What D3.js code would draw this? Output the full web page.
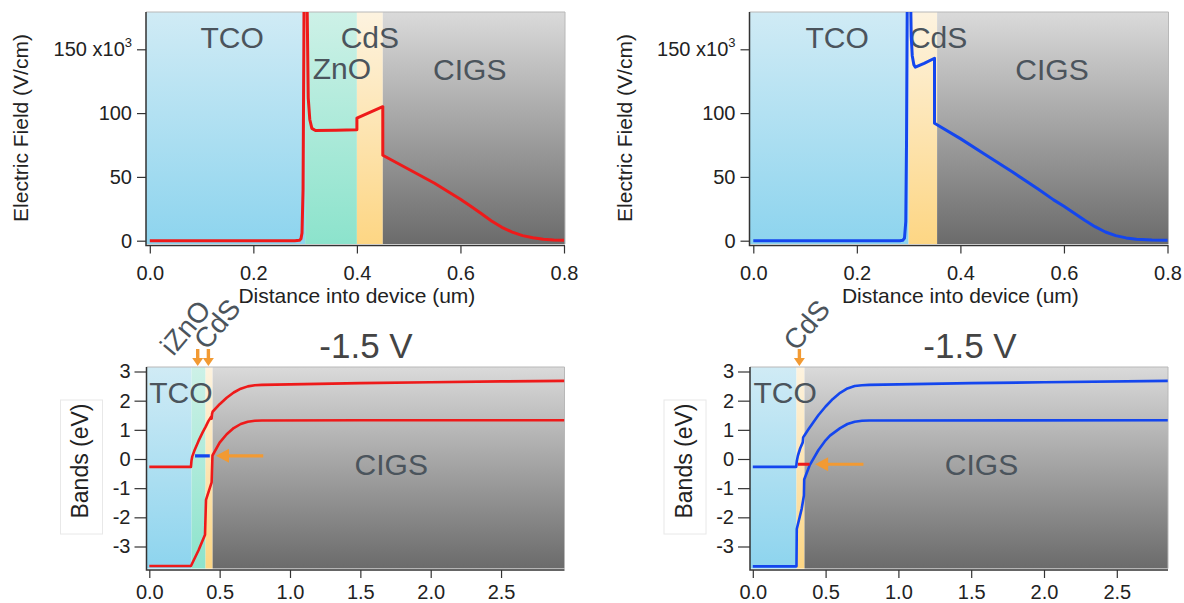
<!DOCTYPE html>
<html>
<head>
<meta charset="utf-8">
<script src="https://cdn.jsdelivr.net/npm/d3@7"></script>
<style>
  body { margin: 0; background: #fff; }
  svg text { font-family: "Liberation Sans", Arial, Helvetica, sans-serif; }
</style>
</head>
<body>
<svg id="chart" width="1184" height="603"></svg>
<script>
// layer stacks (um)
const layersZnO = [
  { name: "TCO", x0: 0, x1: 0.3 },
  { name: "ZnO", x0: 0.3, x1: 0.4 },
  { name: "CdS", x0: 0.4, x1: 0.45 },
  { name: "CIGS", x0: 0.45, x1: 2.95 },
];
const layersCdS = [
  { name: "TCO", x0: 0, x1: 0.3 },
  { name: "CdS", x0: 0.3, x1: 0.355 },
  { name: "CIGS", x0: 0.355, x1: 2.95 },
];

// electric field, [x (um), E (x10^3 V/cm)]
const fieldZnO = [[0,0],[0.28,0],[0.289,0.3],[0.292,1.5],[0.294,6],[0.296,40],[0.2975,150],[0.299,300],
  [0.302,300],[0.304,180],[0.306,112],[0.309,95],[0.313,88],[0.32,86.3],[0.36,86.5],[0.4,87],[0.4,96],
  [0.45,105],[0.45,67],[0.5,56],[0.55,45],[0.6,32.5],[0.62,27],[0.64,21.3],[0.66,15.5],[0.68,10.5],[0.7,6.7],
  [0.72,4],[0.74,2.3],[0.76,1.2],[0.78,0.6],[0.8,0.3]];
const fieldCdS = [[0,0],[0.283,0],[0.289,0.4],[0.292,2],[0.2945,15],[0.296,80],[0.2975,200],[0.299,300],
  [0.302,300],[0.3035,200],[0.305,160],[0.307,145],[0.31,138],[0.313,136],[0.33,139],[0.35,143],[0.35,92],
  [0.4,80],[0.45,67],[0.5,54],[0.55,40.5],[0.58,32],[0.6,27],[0.62,21.5],[0.64,16],[0.66,11],[0.68,6.8],
  [0.7,4],[0.72,2.2],[0.74,1.2],[0.77,0.6],[0.8,0.4]];

// band diagrams at -1.5 V, [x (um), E (eV)]
const bandsUpperZnO = [[0,-0.27],[0.296,-0.27],[0.3,-0.05],[0.305,0.08],[0.32,0.28],[0.35,0.62],[0.38,0.92],
  [0.4,1.1],[0.42,1.3],[0.44,1.45],[0.443,1.38],[0.446,1.55],[0.45,1.62],[0.5,1.88],[0.55,2.1],[0.6,2.28],
  [0.65,2.41],[0.7,2.49],[0.75,2.53],[0.8,2.54],[1.0,2.56],[1.5,2.6],[2.0,2.63],[2.5,2.66],[2.95,2.68]];
const bandsLowerZnO = [[0,-3.67],[0.296,-3.67],[0.35,-3.13],[0.396,-2.6],[0.403,-1.4],[0.443,-0.8],[0.449,0.12],
  [0.5,0.56],[0.55,0.85],[0.6,1.06],[0.65,1.2],[0.7,1.28],[0.75,1.31],[0.8,1.32],[1.5,1.33],[2.95,1.33]];
const bandsUpperCdS = [[0,-0.27],[0.298,-0.27],[0.302,-0.08],[0.31,0.12],[0.325,0.36],[0.343,0.57],[0.346,0.74],
  [0.36,0.85],[0.38,1.0],[0.416,1.26],[0.45,1.5],[0.5,1.8],[0.55,2.06],[0.6,2.27],[0.65,2.42],[0.7,2.5],
  [0.75,2.53],[0.8,2.54],[1.0,2.56],[1.5,2.6],[2.0,2.63],[2.85,2.68]];
const bandsLowerCdS = [[0,-3.68],[0.3,-3.68],[0.302,-2.4],[0.336,-1.7],[0.351,-1.25],[0.353,-0.7],[0.39,-0.22],
  [0.45,0.3],[0.5,0.64],[0.53,0.8],[0.6,1.06],[0.65,1.2],[0.7,1.28],[0.75,1.31],[0.8,1.32],[2.85,1.33]];
const fermiZnO = [[0.325,0.11],[0.43,0.11]];
const fermiCdS = [[0.31,-0.18],[0.39,-0.18]];

// tick labels
const fieldXTicks = [0, 0.2, 0.4, 0.6, 0.8];
const fieldYTicks = [0, 50, 100, 150];
const bandsXTicks = [0, 0.5, 1.0, 1.5, 2.0, 2.5];
const bandsYTicks = [-3, -2, -1, 0, 1, 2, 3];

const RED = "#ee1a1a", BLUE = "#1446ee", ORANGE = "#f29a33";
const svg = d3.select("#chart");
svg.append("rect").attr("width", 1184).attr("height", 603).attr("fill", "#fff");
const defs = svg.append("defs");

const layerFill = {
  TCO: ["#d0ebf5", "#8dd4ee"],
  ZnO: ["#cdf1e7", "#8ce3cc"],
  CdS: ["#fdf3e0", "#fdd684"],
  CIGS: ["#dadada", "#6b6b6b"],
};
Object.entries(layerFill).forEach(([k, c]) => {
  const lg = defs.append("linearGradient").attr("id", "grad-" + k)
    .attr("x1", 0).attr("y1", 0).attr("x2", 0).attr("y2", 1);
  lg.append("stop").attr("offset", "0%").attr("stop-color", c[0]);
  lg.append("stop").attr("offset", "100%").attr("stop-color", c[1]);
});

let clipCount = 0;
function drawPanel(o) {
  const g = svg.append("g");
  const b = o.box;
  const x = d3.scaleLinear().domain(o.xDomain).range(o.xRange);
  const y = d3.scaleLinear().domain(o.yDomain).range(o.yRange);
  const n = o.layers.length;
  const lx0 = (d, i) => (i === 0 ? b.l : x(d.x0));
  const lx1 = (d, i) => (i === n - 1 ? b.r : x(d.x1));

  g.selectAll("rect.layer").data(o.layers).enter().append("rect")
    .attr("class", "layer")
    .attr("x", lx0).attr("width", (d, i) => lx1(d, i) - lx0(d, i))
    .attr("y", b.t).attr("height", b.b - b.t)
    .attr("fill", (d) => `url(#grad-${d.name})`);
  g.append("path")
    .attr("d", `M${b.l},${b.t}H${b.r}V${b.b}`)
    .attr("fill", "none").attr("stroke", "#b8b8b8").attr("stroke-width", 1);

  // region names
  g.selectAll("text.region").data(o.regions).enter().append("text")
    .attr("class", "region")
    .attr("x", (d) => x(d.x)).attr("y", (d) => y(d.y))
    .attr("text-anchor", "middle").attr("font-size", 30).attr("fill", "#4b545c")
    .text((d) => d.text);

  const id = "clip" + clipCount++;
  defs.append("clipPath").attr("id", id).append("rect")
    .attr("x", b.l).attr("y", b.t).attr("width", b.r - b.l).attr("height", b.b - b.t);
  const plot = g.append("g").attr("clip-path", `url(#${id})`);
  const line = d3.line().x((d) => x(d[0])).y((d) => y(d[1]));
  o.series.forEach((s) => {
    plot.append("path").attr("d", line(s.data))
      .attr("fill", "none").attr("stroke", s.color).attr("stroke-width", s.width)
      .attr("stroke-linejoin", "round");
  });

  // axes
  const xAxis = d3.axisBottom(x).tickValues(o.xTicks).tickFormat(d3.format(".1f"))
    .tickSize(8).tickPadding(o.xPad);
  const ga = g.append("g").attr("transform", `translate(0,${o.axisY})`).call(xAxis);
  const yAxis = d3.axisLeft(y).tickValues(o.yTicks).tickFormat((d) => String(d))
    .tickSize(o.yTick).tickPadding(o.yPad);
  const gy = g.append("g").attr("transform", `translate(${b.l},0)`).call(yAxis);
  [ga, gy].forEach((a) => {
    a.select(".domain").remove();
    a.attr("font-family", null);
    a.selectAll(".tick line").attr("stroke", "#333").attr("stroke-width", 1.2);
    a.selectAll(".tick text").attr("font-size", 20).attr("fill", "#222");
  });
  g.append("path")
    .attr("d", `M${b.l},${b.t}V${o.axisY}H${b.r}`)
    .attr("fill", "none").attr("stroke", "#333").attr("stroke-width", 1.5);

  return { g, x, y, gy };
}

// ---------- top: electric field ----------
function fieldPanel(left, layers, data, color, regions) {
  const p = drawPanel({
    box: { l: left, r: left + 419, t: 12, b: 244 },
    axisY: 245.5,
    xDomain: [0, 0.8], xRange: [left + 3.8, left + 418],
    yDomain: [0, 150], yRange: [240.7, 49.3],
    layers: layers,
    regions: regions,
    series: [{ data: data, color: color, width: 3 }],
    xTicks: fieldXTicks, yTicks: fieldYTicks,
    xPad: 12, yTick: 9, yPad: 5,
  });
  // 150 x10^3 label
  p.gy.selectAll(".tick text").filter((d) => d === 150)
    .text("150 x10").append("tspan").attr("dy", -9).attr("font-size", 13).text("3");
  p.g.append("text").attr("x", p.x(0.4)).attr("y", 303)
    .attr("text-anchor", "middle").attr("font-size", 21).attr("fill", "#222")
    .text("Distance into device (um)");
  p.g.append("text").attr("transform", `translate(${left - 118},128) rotate(-90)`)
    .attr("text-anchor", "middle").attr("font-size", 21).attr("fill", "#222")
    .text("Electric Field (V/cm)");
}

fieldPanel(146, layersZnO, fieldZnO, RED, [
  { text: "TCO", x: 0.159, y: 151 }, { text: "ZnO", x: 0.371, y: 126.6 },
  { text: "CdS", x: 0.425, y: 151 }, { text: "CIGS", x: 0.618, y: 126 },
]);
fieldPanel(749.5, layersCdS, fieldCdS, BLUE, [
  { text: "TCO", x: 0.162, y: 151 }, { text: "CdS", x: 0.357, y: 151 },
  { text: "CIGS", x: 0.577, y: 126 },
]);

// ---------- bottom: band diagrams ----------
function bandPanel(o) {
  const left = o.left;
  const p = drawPanel({
    box: { l: left, r: left + 418, t: 367, b: 568.5 },
    axisY: 570,
    xDomain: [0, 1], xRange: [left + 2.8, left + 2.8 + o.pxPerUm],
    yDomain: [0, 3], yRange: [459, 371.5],
    layers: o.layers,
    regions: o.regions,
    series: [
      { data: o.upper, color: o.color, width: 2.6 },
      { data: o.lower, color: o.color, width: 2.6 },
      { data: o.fermi, color: o.fermiColor, width: 3.2 },
    ],
    xTicks: bandsXTicks, yTicks: bandsYTicks,
    xPad: 7, yTick: 12, yPad: 4,
  });
  const x = p.x, y = p.y, g = p.g;

  // horizontal orange arrow pointing at the interface
  const ay = y(o.arrow.y);
  g.append("line").attr("x1", x(o.arrow.from)).attr("x2", x(o.arrow.to) + 10)
    .attr("y1", ay).attr("y2", ay).attr("stroke", ORANGE).attr("stroke-width", 3.2);
  g.append("path").attr("d", `M${x(o.arrow.to)},${ay}l13,-7v14z`).attr("fill", ORANGE);

  // small down arrows marking thin layers
  o.markers.forEach((m) => {
    const mx = x(m);
    g.append("line").attr("x1", mx).attr("x2", mx).attr("y1", 349).attr("y2", 359)
      .attr("stroke", ORANGE).attr("stroke-width", 3.4);
    g.append("path").attr("d", `M${mx - 5.5},358h11l-5.5,8z`).attr("fill", ORANGE);
  });

  // rotated layer names
  o.callouts.forEach((c) => {
    g.append("text").attr("transform", `translate(${x(c.x)},${c.py}) rotate(-50)`)
      .attr("font-size", 28).attr("fill", "#4b545c").text(c.text);
  });

  g.append("text").attr("x", o.titleX).attr("y", 358).attr("text-anchor", "middle")
    .attr("font-size", 35).attr("fill", "#444").text("-1.5 V");

  g.append("rect").attr("x", left - 86).attr("y", 400).attr("width", 42).attr("height", 134)
    .attr("fill", "#fff").attr("stroke", "#e8e8e8");
  g.append("text").attr("transform", `translate(${left - 58.5},461) rotate(-90)`)
    .attr("text-anchor", "middle").attr("font-size", 23).attr("fill", "#222").text("Bands (eV)");
}

bandPanel({
  left: 146.5, pxPerUm: 140.7, layers: layersZnO,
  upper: bandsUpperZnO, lower: bandsLowerZnO, fermi: fermiZnO,
  color: RED, fermiColor: BLUE,
  arrow: { from: 0.81, to: 0.474, y: 0.11 },
  markers: [0.344, 0.42],
  callouts: [{ text: "iZnO", x: 0.17, py: 357 }, { text: "CdS", x: 0.41, py: 351 }],
  regions: [{ text: "TCO", x: 0.225, y: 1.92 }, { text: "CIGS", x: 1.72, y: -0.55 }],
  titleX: 366,
});
bandPanel({
  left: 750, pxPerUm: 145.6, layers: layersCdS,
  upper: bandsUpperCdS, lower: bandsLowerCdS, fermi: fermiCdS,
  color: BLUE, fermiColor: RED,
  arrow: { from: 0.76, to: 0.428, y: -0.18 },
  markers: [0.32],
  callouts: [{ text: "CdS", x: 0.3, py: 352 }],
  regions: [{ text: "TCO", x: 0.222, y: 1.92 }, { text: "CIGS", x: 1.571, y: -0.55 }],
  titleX: 970,
});
</script>
</body>
</html>
